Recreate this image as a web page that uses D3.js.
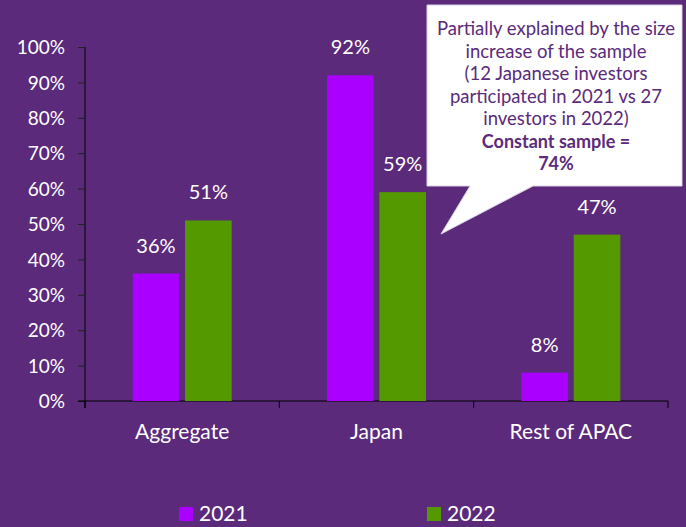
<!DOCTYPE html>
<html>
<head>
<meta charset="utf-8">
<script src="https://cdn.jsdelivr.net/npm/d3@7"></script>
<style>
  html, body { margin: 0; padding: 0; background: #5b2a7b; }
  svg { display: block; font-family: Lato, "Open Sans", sans-serif; }
</style>
</head>
<body>
<div id="chart"></div>
<script>
const categories = ["Aggregate", "Japan", "Rest of APAC"];
const seriesNames = ["2021", "2022"];
const values2021 = [36, 92, 8];
const values2022 = [51, 59, 47];
const yTicks = [0, 10, 20, 30, 40, 50, 60, 70, 80, 90, 100];
const calloutLines = [
    "Partially explained by the size",
    "increase of the sample",
    "(12 Japanese investors",
    "participated in 2021 vs 27",
    "investors in 2022)"
];
const calloutBold = ["Constant sample =", "74%"];

const width = 686, height = 527;
const colors = { "2021": "#aa00ff", "2022": "#559900" };
const bg = "#5b2a7b";
const font = "Lato, 'Open Sans', sans-serif";

const svg = d3.select("#chart").append("svg")
    .attr("width", width)
    .attr("height", height);

svg.append("rect").attr("width", width).attr("height", height).attr("fill", bg);

const x = d3.scaleBand().domain(categories).range([85, 668]);
const xSub = d3.scaleBand().domain(seriesNames).range([0, 99]).paddingInner(0.11);
const y = d3.scaleLinear().domain([0, 100]).range([401, 47]);

// axes
const yAxis = svg.append("g")
    .attr("transform", "translate(85,0)")
    .call(d3.axisLeft(y).tickValues(yTicks).tickSize(7).tickPadding(13).tickFormat(d => d + "%"))
    .attr("font-family", font);
yAxis.select(".domain").attr("stroke", "#000").attr("d", "M0,47V408");
yAxis.selectAll(".tick line").attr("stroke", "#222");
yAxis.selectAll("text").attr("fill", "#fff").style("font-size", "19px").attr("dy", "0.35em");

const xAxis = svg.append("g")
    .attr("transform", "translate(0,401)")
    .call(d3.axisBottom(x).tickSize(0).tickPadding(23))
    .attr("font-family", font);
xAxis.select(".domain").attr("stroke", "#000").attr("d", "M78,0H668");
xAxis.selectAll("text").attr("fill", "#fff").style("font-size", "21px");
// boundary ticks between categories
const bounds = categories.map(c => x(c)).concat([x.range()[1]]);
svg.append("g").selectAll("line").data(bounds).join("line")
    .attr("x1", d => d).attr("x2", d => d)
    .attr("y1", 401).attr("y2", 408)
    .attr("stroke", "#000");

// bars
const rows = categories.map((c, i) => ({ cat: c, vals: [
    { key: "2021", v: values2021[i] },
    { key: "2022", v: values2022[i] }
]}));

const groups = svg.append("g").selectAll("g").data(rows).join("g")
    .attr("transform", d => `translate(${x(d.cat) + (x.bandwidth() - 99) / 2},0)`);

groups.selectAll("rect").data(d => d.vals).join("rect")
    .attr("x", d => xSub(d.key))
    .attr("width", xSub.bandwidth())
    .attr("y", d => y(d.v))
    .attr("height", d => y(0) - y(d.v))
    .attr("fill", d => colors[d.key]);

groups.selectAll("text").data(d => d.vals).join("text")
    .attr("x", d => xSub(d.key) + xSub.bandwidth() / 2)
    .attr("y", d => y(d.v) - 21)
    .attr("text-anchor", "middle")
    .attr("fill", "#fff")
    .style("font-size", "20px")
    .text(d => d.v + "%");

// callout
svg.append("path")
    .attr("d", "M427,5H682V186H533L441,234L470,186H427Z")
    .attr("fill", "#fff")
    .attr("stroke", "#d9cfe3")
    .attr("stroke-width", 1);

const callout = svg.append("g").attr("fill", bg).attr("text-anchor", "middle");
calloutLines.forEach((t, i) => {
    callout.append("text").attr("x", 556).attr("y", 35 + i * 22.5)
        .style("font-size", "18.5px").text(t);
});
calloutBold.forEach((t, i) => {
    callout.append("text").attr("x", 556).attr("y", 147.5 + i * 22.5)
        .style("font-size", "18px").style("font-weight", "bold").text(t);
});

// legend
const legend = svg.append("g").selectAll("g").data(seriesNames).join("g")
    .attr("transform", (d, i) => `translate(${i === 0 ? 179 : 427},507)`);
legend.append("rect").attr("width", 14).attr("height", 14).attr("fill", d => colors[d]);
legend.append("text").attr("x", 20).attr("y", 7).attr("dy", "0.35em")
    .attr("fill", "#fff").style("font-size", "21px").text(d => d);
</script>
</body>
</html>
